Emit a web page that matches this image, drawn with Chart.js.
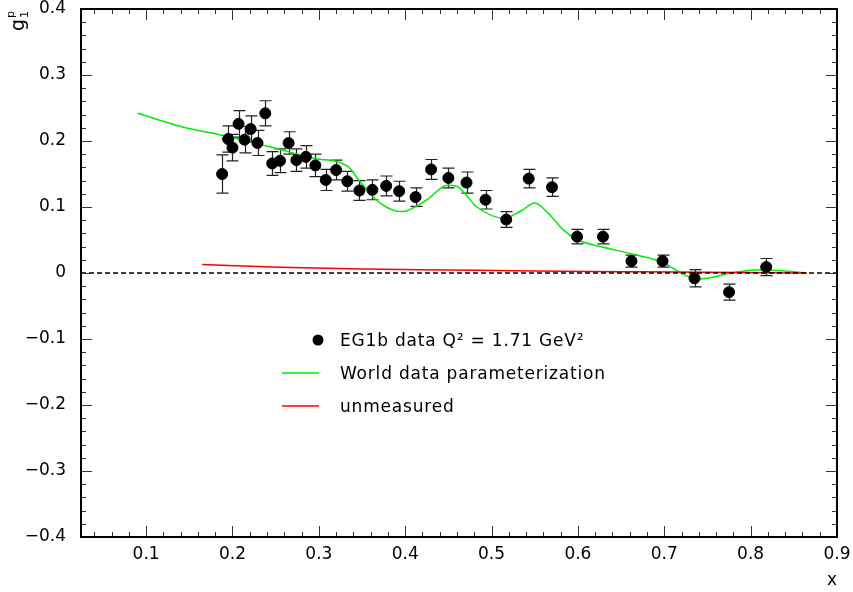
<!DOCTYPE html>
<html>
<head>
<meta charset="utf-8">
<script src="https://cdn.jsdelivr.net/npm/chart.js@4.4.1/dist/chart.umd.min.js"></script>
<style>
    body { margin: 0; background: #fff; }
    canvas { display: block; }
</style>
</head>
<body>
<canvas id="grafico" width="853" height="592"></canvas>
<script>
const dadosX = [0.188, 0.195, 0.200, 0.207, 0.214, 0.221, 0.229, 0.238, 0.246, 0.255, 0.265, 0.274,
    0.285, 0.296, 0.308, 0.320, 0.333, 0.347, 0.362, 0.378, 0.393, 0.412, 0.430, 0.450,
    0.471, 0.493, 0.517, 0.543, 0.570, 0.599, 0.629, 0.662, 0.698, 0.735, 0.775, 0.818];
const dadosY = [0.150, 0.203, 0.190, 0.226, 0.202, 0.218, 0.197, 0.242, 0.166, 0.170, 0.197, 0.171,
    0.176, 0.163, 0.141, 0.156, 0.139, 0.125, 0.126, 0.132, 0.124, 0.115, 0.157, 0.144,
    0.137, 0.111, 0.081, 0.143, 0.130, 0.055, 0.055, 0.018, 0.018, -0.008, -0.029, 0.009];
const erros = [0.029, 0.020, 0.020, 0.020, 0.020, 0.020, 0.019, 0.019, 0.018, 0.018, 0.017, 0.017,
    0.017, 0.017, 0.016, 0.015, 0.015, 0.015, 0.015, 0.015, 0.015, 0.014, 0.015, 0.015,
    0.016, 0.014, 0.012, 0.014, 0.014, 0.011, 0.011, 0.009, 0.009, 0.013, 0.012, 0.013];

const mundoX = [0.090, 0.140, 0.190, 0.244, 0.294, 0.333, 0.348, 0.371, 0.396, 0.425, 0.449, 0.460,
    0.483, 0.514, 0.534, 0.550, 0.566, 0.585, 0.600, 0.626, 0.669, 0.700, 0.719, 0.738,
    0.750, 0.777, 0.808, 0.835, 0.862];
const mundoY = [0.242, 0.222, 0.208, 0.191, 0.174, 0.162, 0.138, 0.106, 0.093, 0.111, 0.133, 0.131,
    0.100, 0.083, 0.094, 0.106, 0.090, 0.063, 0.050, 0.040, 0.027, 0.015, 0.000, -0.009,
    -0.008, 0.000, 0.0045, 0.0035, 0.0005];

const naoMedidoX = [0.165, 0.255, 0.350, 0.450, 0.550, 0.650, 0.750, 0.865];
const naoMedidoY = [0.013, 0.0086, 0.006, 0.0045, 0.003, 0.002, 0.001, 0.000];

const ticksX = [0.1, 0.2, 0.3, 0.4, 0.5, 0.6, 0.7, 0.8, 0.9];
const ticksY = [-0.4, -0.3, -0.2, -0.1, 0, 0.1, 0.2, 0.3, 0.4];

const X_MIN = 0.0246, X_MAX = 0.9;
const Y_MIN = -0.4, Y_MAX = 0.4;
const FONTE = '17px "DejaVu Sans"';

function pares(xs, ys) {
    return xs.map((x, i) => ({ x: x, y: ys[i] }));
}

function formatarTick(v) {
    if (Math.abs(v) < 1e-9) return '0';
    return v.toFixed(1).replace('-', '\u2212');
}

// barras de erro, moldura com ticks internos, legenda e titulos
const pluginExtras = {
    id: 'extras',
    beforeDatasetsDraw(chart) {
        const ctx = chart.ctx;
        const sx = chart.scales.x, sy = chart.scales.y;
        ctx.save();
        ctx.strokeStyle = '#222';
        ctx.lineWidth = 1.2;
        dadosX.forEach((x, i) => {
            const px = Math.round(sx.getPixelForValue(x)) + 0.5;
            const y1 = sy.getPixelForValue(dadosY[i] + erros[i]);
            const y2 = sy.getPixelForValue(dadosY[i] - erros[i]);
            ctx.beginPath();
            ctx.moveTo(px, y1); ctx.lineTo(px, y2);
            ctx.moveTo(px - 6, y1); ctx.lineTo(px + 6, y1);
            ctx.moveTo(px - 6, y2); ctx.lineTo(px + 6, y2);
            ctx.stroke();
        });
        ctx.restore();
    },
    afterDraw(chart) {
        const ctx = chart.ctx;
        const area = chart.chartArea;
        const sx = chart.scales.x, sy = chart.scales.y;
        ctx.save();

        // ticks internos
        ctx.strokeStyle = '#333';
        ctx.lineWidth = 1;
        ctx.beginPath();
        for (let k = 2; k <= 45; k++) {
            const v = k * 0.02;
            if (v < X_MIN || v > X_MAX + 1e-9) continue;
            const px = Math.round(sx.getPixelForValue(v)) + 0.5;
            const len = (k % 5 === 0) ? 11 : 5;
            ctx.moveTo(px, area.bottom); ctx.lineTo(px, area.bottom - len);
            ctx.moveTo(px, area.top); ctx.lineTo(px, area.top + len);
        }
        for (let k = -20; k <= 20; k++) {
            const py = Math.round(sy.getPixelForValue(k * 0.02)) + 0.5;
            const len = (k % 5 === 0) ? 11 : 5;
            ctx.moveTo(area.left, py); ctx.lineTo(area.left + len, py);
            ctx.moveTo(area.right, py); ctx.lineTo(area.right - len, py);
        }
        ctx.stroke();

        ctx.strokeStyle = '#000';
        ctx.lineWidth = 2;
        ctx.strokeRect(area.left, area.top, area.right - area.left, area.bottom - area.top);

        // legenda
        ctx.fillStyle = '#000';
        ctx.beginPath();
        ctx.arc(318, 340, 5.5, 0, Math.PI * 2);
        ctx.fill();
        ctx.lineWidth = 1.5;
        ctx.strokeStyle = '#00ee00';
        ctx.beginPath(); ctx.moveTo(282, 373); ctx.lineTo(319, 373); ctx.stroke();
        ctx.strokeStyle = '#ff0000';
        ctx.beginPath(); ctx.moveTo(282, 406); ctx.lineTo(319, 406); ctx.stroke();

        ctx.font = FONTE;
        ctx.letterSpacing = '0.8px';
        ctx.textBaseline = 'middle';
        ctx.textAlign = 'left';
        ctx.fillText('EG1b data Q\u00b2 = 1.71 GeV\u00b2', 340, 342);
        ctx.fillText('World data parameterization', 340, 375);
        ctx.fillText('unmeasured', 340, 408);
        ctx.letterSpacing = '0px';

        // titulo do eixo x
        ctx.textAlign = 'right';
        ctx.textBaseline = 'alphabetic';
        ctx.fillText('x', 837, 585);

        // titulo do eixo y: g com indice 1 e expoente p
        ctx.translate(24, 31);
        ctx.rotate(-Math.PI / 2);
        ctx.textAlign = 'left';
        ctx.font = '19px "DejaVu Sans"';
        ctx.fillText('g', 0, 0);
        const lg = ctx.measureText('g').width;
        ctx.font = '11px "DejaVu Sans"';
        ctx.fillText('1', lg + 1, 4);
        ctx.fillText('p', lg + 1, -10);
        ctx.restore();
    }
};

function desenharGrafico() {
    const ctx = document.getElementById('grafico').getContext('2d');
    new Chart(ctx, {
        type: 'scatter',
        data: {
            datasets: [
                {
                    label: 'EG1b data',
                    data: pares(dadosX, dadosY),
                    backgroundColor: '#000',
                    borderColor: '#000',
                    pointRadius: 5.5,
                    pointHoverRadius: 5.5,
                    showLine: false
                },
                {
                    label: 'zero',
                    data: [{ x: X_MIN, y: 0 }, { x: X_MAX, y: 0 }],
                    borderColor: '#000',
                    borderWidth: 1.3,
                    borderDash: [5, 3],
                    pointRadius: 0,
                    showLine: true
                },
                {
                    label: 'unmeasured',
                    data: pares(naoMedidoX, naoMedidoY),
                    borderColor: '#ff0000',
                    borderWidth: 1.5,
                    pointRadius: 0,
                    showLine: true,
                    cubicInterpolationMode: 'monotone'
                },
                {
                    label: 'World data parameterization',
                    data: pares(mundoX, mundoY),
                    borderColor: '#00ee00',
                    borderWidth: 1.5,
                    pointRadius: 0,
                    showLine: true,
                    cubicInterpolationMode: 'monotone'
                }
            ]
        },
        options: {
            responsive: false,
            animation: false,
            devicePixelRatio: 1,
            layout: { padding: { top: 9, right: 16, left: 0, bottom: 0 } },
            plugins: { legend: { display: false }, tooltip: { enabled: false } },
            scales: {
                x: {
                    type: 'linear',
                    min: X_MIN,
                    max: X_MAX,
                    afterFit: (scale) => {
                        scale.height = 55;
                        scale.paddingLeft = 0;
                        scale.paddingRight = 0;
                    },
                    afterBuildTicks: (scale) => { scale.ticks = ticksX.map(v => ({ value: v })); },
                    grid: { display: false, drawTicks: false },
                    border: { display: false },
                    ticks: {
                        color: '#000',
                        font: { family: 'DejaVu Sans', size: 17 },
                        padding: 7,
                        maxRotation: 0,
                        autoSkip: false,
                        callback: formatarTick
                    }
                },
                y: {
                    type: 'linear',
                    min: Y_MIN,
                    max: Y_MAX,
                    afterFit: (scale) => {
                        scale.width = 81;
                        scale.paddingTop = 0;
                        scale.paddingBottom = 0;
                    },
                    afterBuildTicks: (scale) => { scale.ticks = ticksY.map(v => ({ value: v })); },
                    grid: { display: false, drawTicks: false },
                    border: { display: false },
                    ticks: {
                        color: '#000',
                        font: { family: 'DejaVu Sans', size: 17 },
                        padding: 15,
                        autoSkip: false,
                        callback: formatarTick
                    }
                }
            }
        },
        plugins: [pluginExtras]
    });
}

document.addEventListener('DOMContentLoaded', desenharGrafico);
</script>
</body>
</html>
